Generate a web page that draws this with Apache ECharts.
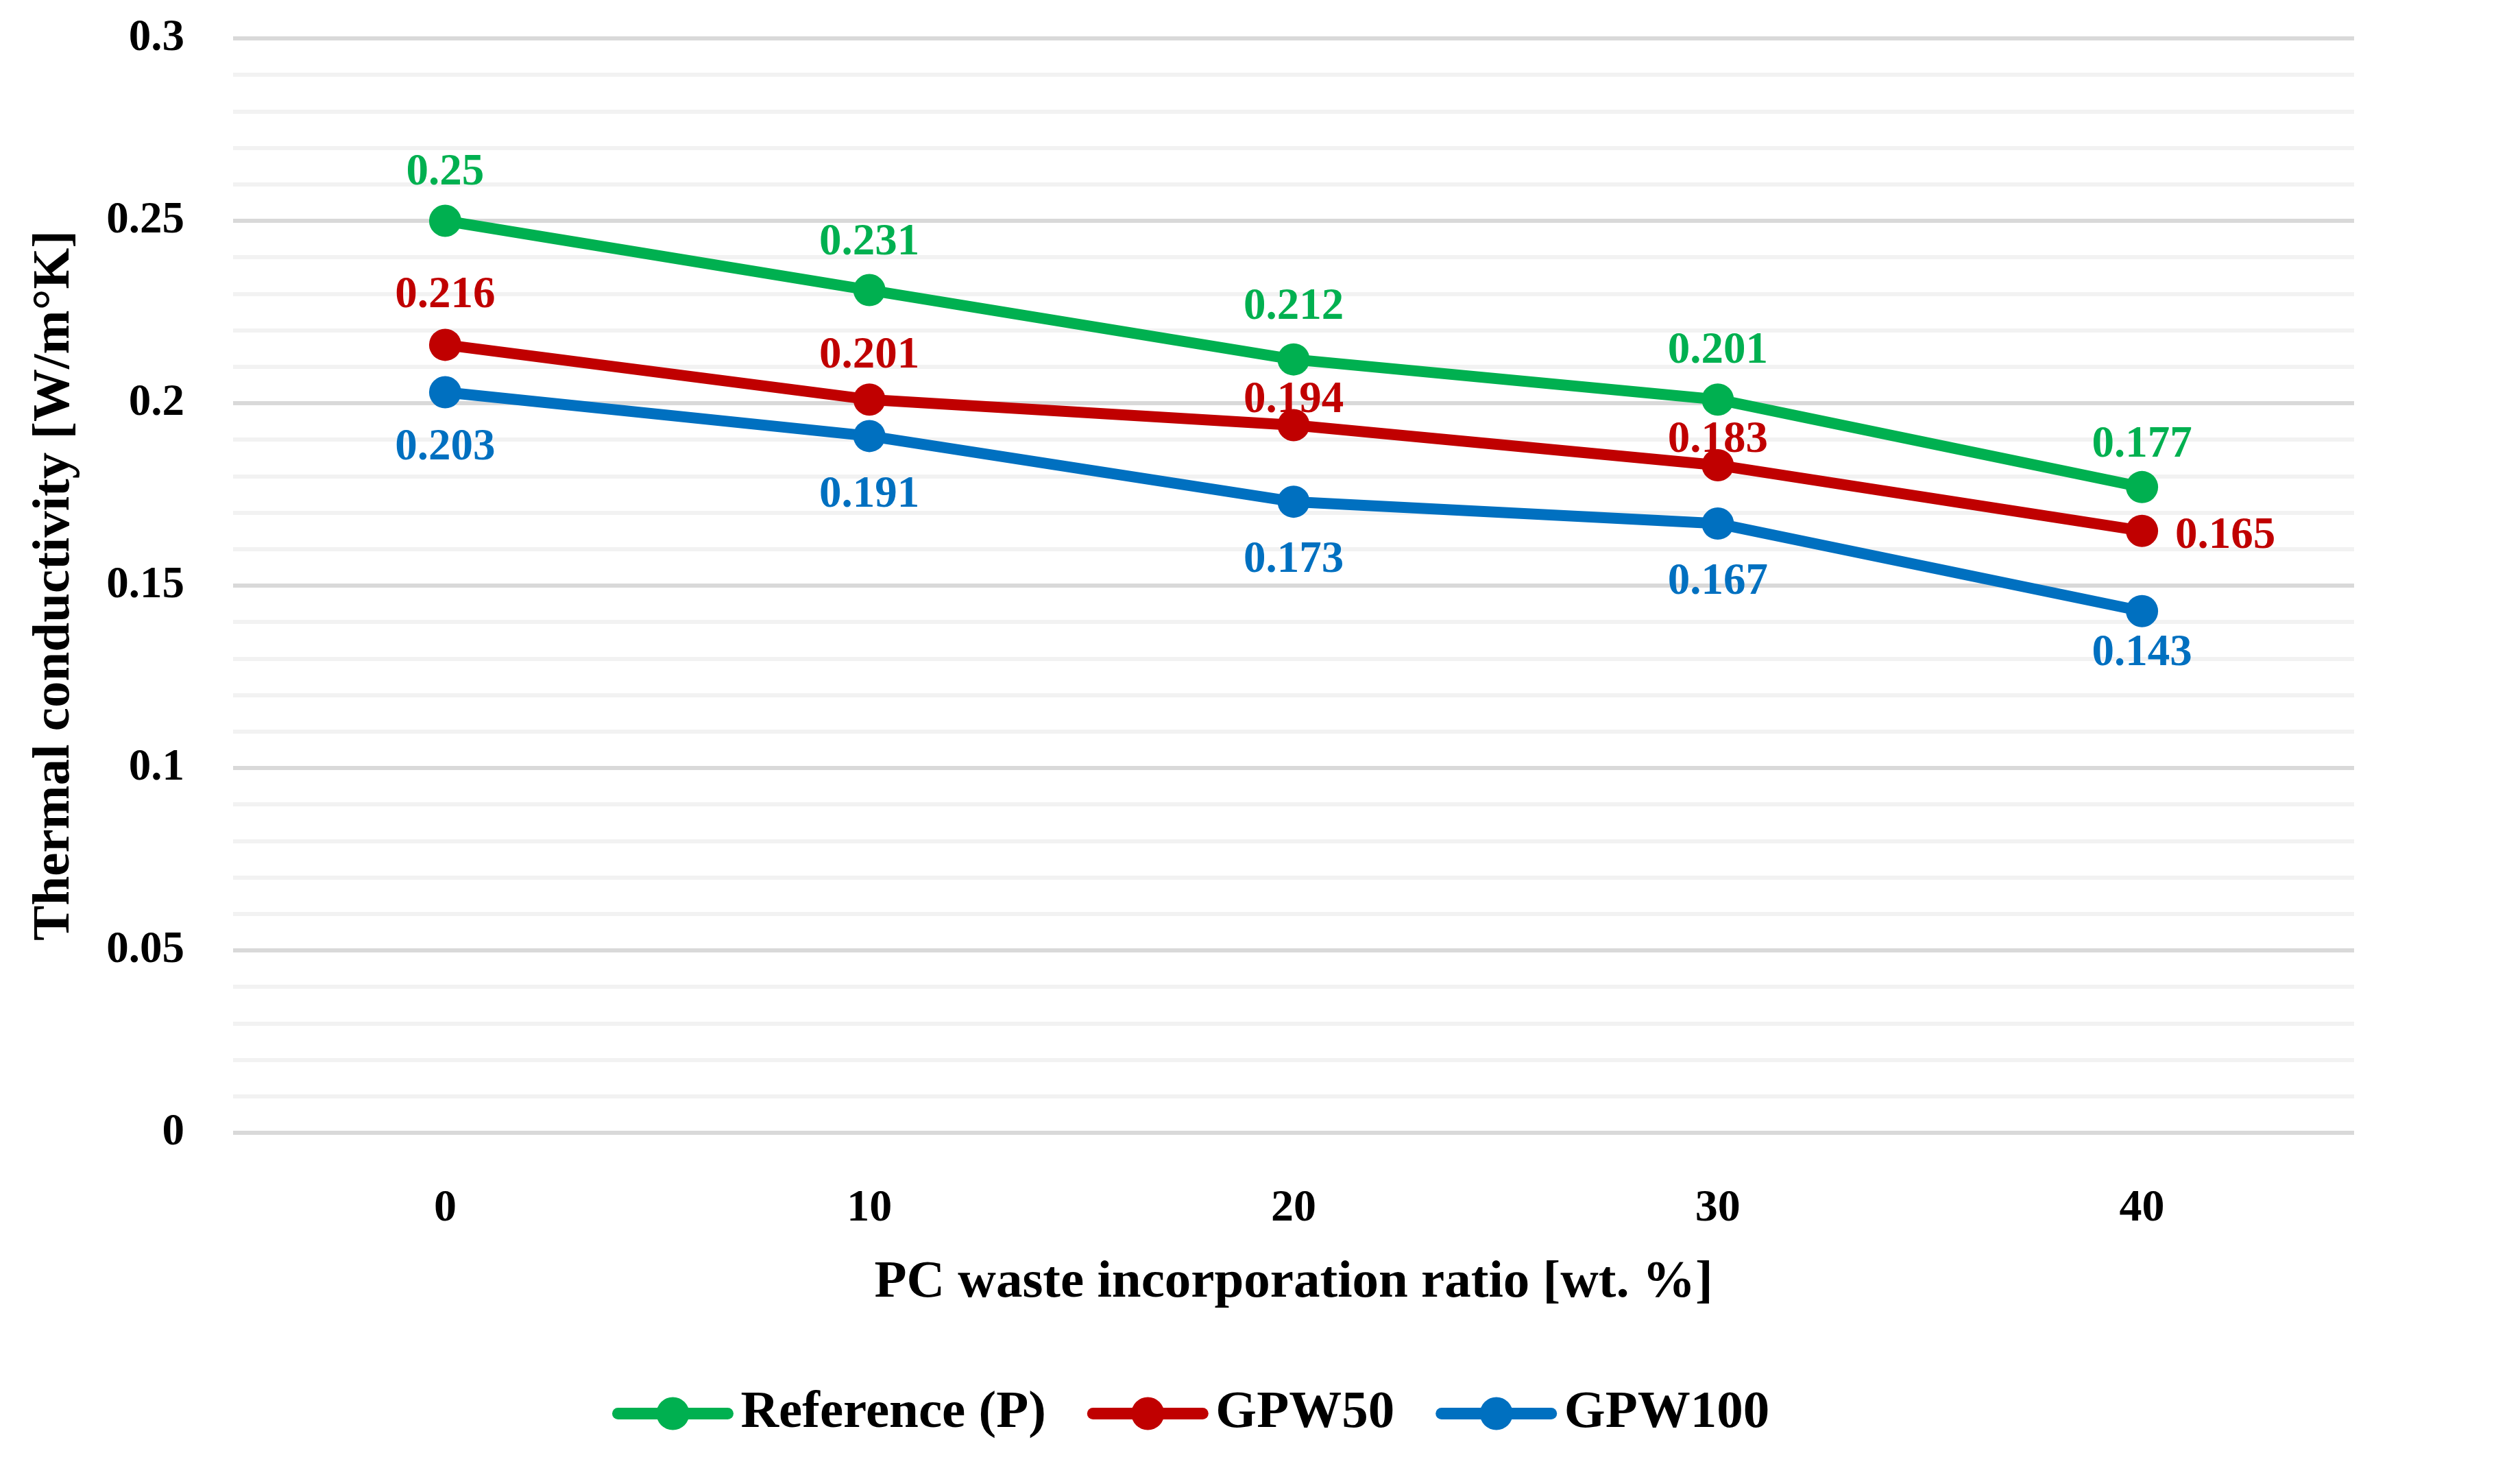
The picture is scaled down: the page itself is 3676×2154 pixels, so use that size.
<!DOCTYPE html>
<html>
<head>
<meta charset="utf-8">
<script src="https://cdn.jsdelivr.net/npm/echarts@6/dist/echarts.min.js"></script>
<style>
html,body{margin:0;padding:0;background:#fff;}
#chart{width:3676px;height:2154px;}
</style>
</head>
<body>
<div id="chart"></div>
<script>
const categories = ['0', '10', '20', '30', '40'];
const seriesNames = ['Reference (P)', 'GPW50', 'GPW100'];
const referenceP = [0.25, 0.231, 0.212, 0.201, 0.177];
const gpw50 = [0.216, 0.201, 0.194, 0.183, 0.165];
const gpw100 = [0.203, 0.191, 0.173, 0.167, 0.143];
const yMin = 0, yMax = 0.3, yInterval = 0.05;

const FONT = "'Liberation Serif', 'Times New Roman', serif";
const colors = ['#00B050', '#C00000', '#0070C0'];

// label placement per series (kept apart from the values)
const labelPlace = [
  { pos: 'top', dist: [14, 13, 20, 14, 5] },
  { pos: 'top', dist: [16, 7, -20, -20, 25] },
  { pos: 'bottom', dist: [25, 30, 30, 30, 6] }
];

function buildData(values, si) {
  return values.map(function (v, i) {
    const lp = labelPlace[si];
    const label = { position: lp.pos, distance: lp.dist[i] };
    if (si === 1 && i === 4) { label.position = 'right'; label.offset = [0, 8]; }
    return { value: v, label: label };
  });
}

const allValues = [referenceP, gpw50, gpw100];

const chart = echarts.init(document.getElementById('chart'), null, { renderer: 'canvas' });
chart.setOption({
  backgroundColor: '#ffffff',
  animation: false,
  textStyle: { fontFamily: FONT },
  grid: { left: 340, right: 242, top: 56, bottom: 502, containLabel: false },
  legend: {
    data: seriesNames,
    left: 888,
    top: 2018,
    itemWidth: 160,
    itemHeight: 60,
    itemGap: 60,
    lineStyle: { width: 17, cap: 'round' },
    textStyle: { fontFamily: FONT, fontWeight: 'bold', fontSize: 77, color: '#000', padding: [0, 0, 0, 14] }
  },
  xAxis: {
    type: 'category',
    data: categories,
    boundaryGap: true,
    axisLine: { show: false },
    axisTick: { show: false },
    axisLabel: { fontFamily: FONT, fontWeight: 'bold', fontSize: 66, color: '#000', margin: 78 },
    name: 'PC waste incorporation ratio [wt. %]',
    nameLocation: 'middle',
    nameGap: 181,
    nameTextStyle: { fontFamily: FONT, fontWeight: 'bold', fontSize: 77, color: '#000' }
  },
  yAxis: {
    type: 'value',
    min: yMin,
    max: yMax,
    interval: yInterval,
    axisLine: { show: false },
    axisTick: { show: false },
    axisLabel: { fontFamily: FONT, fontWeight: 'bold', fontSize: 65, color: '#000', margin: 71 },
    splitLine: { show: true, lineStyle: { color: '#D9D9D9', width: 6 } },
    minorTick: { show: false, splitNumber: 5 },
    minorSplitLine: { show: true, lineStyle: { color: '#F2F2F2', width: 6 } },
    name: 'Thermal conductivity [W/m°K]',
    nameLocation: 'middle',
    nameGap: 221,
    nameTextStyle: { fontFamily: FONT, fontWeight: 'bold', fontSize: 77, color: '#000' }
  },
  series: allValues.map(function (vals, si) {
    return {
      name: seriesNames[si],
      type: 'line',
      data: buildData(vals, si),
      symbol: 'circle',
      symbolSize: 47,
      showSymbol: true,
      lineStyle: { color: colors[si], width: 16 },
      itemStyle: { color: colors[si] },
      label: {
        show: true,
        fontFamily: FONT,
        fontWeight: 'bold',
        fontSize: 65,
        color: colors[si]
      },
      emphasis: { disabled: true }
    };
  })
});
</script>
</body>
</html>
